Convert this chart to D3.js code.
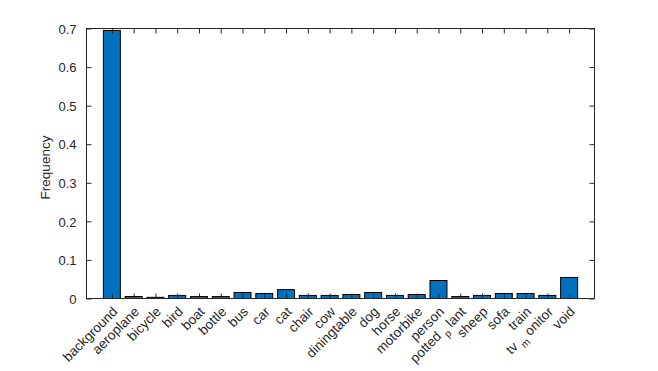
<!DOCTYPE html>
<html>
<head>
<meta charset="utf-8">
<script src="https://cdn.jsdelivr.net/npm/d3@7"></script>
<style>
  body { margin: 0; background: #fff; }
  text { font-family: 'Liberation Sans', Arial, sans-serif; fill: #262626; }
</style>
</head>
<body>
<div id="chart"></div>
<script>
// categories and frequencies
let categories = ['background', 'aeroplane', 'bicycle', 'bird', 'boat', 'bottle', 'bus', 'car',
  'cat', 'chair', 'cow', 'diningtable', 'dog', 'horse', 'motorbike', 'person',
  'potted_plant', 'sheep', 'sofa', 'train', 'tv_monitor', 'void']
let frequencies = [0.695, 0.0052, 0.003, 0.008, 0.005, 0.005, 0.0156, 0.013,
  0.023, 0.008, 0.008, 0.0104, 0.0156, 0.008, 0.0104, 0.0467,
  0.005, 0.008, 0.013, 0.013, 0.008, 0.0545]
let yTicks = [0, 0.1, 0.2, 0.3, 0.4, 0.5, 0.6, 0.7]

let margin = { top: 28.5, left: 86.5, right: 63.5, bottom: 72.5 }
let width = 658 - margin.left - margin.right
let height = 371 - margin.top - margin.bottom

let svg = d3.select('#chart')
  .append('svg')
  .attr('width', 658)
  .attr('height', 371)

let g = svg.append('g')
  .attr('transform', `translate(${margin.left},${margin.top})`)

let pad = 1.165
let xPositionScale = d3.scaleLinear()
  .domain([-pad, categories.length - 1 + pad])
  .range([0, width])

let yPositionScale = d3.scaleLinear()
  .domain([0, 0.7])
  .range([height, 0])

let step = xPositionScale(1) - xPositionScale(0)
let barWidth = step * 0.78

// bars
g.selectAll('.bar')
  .data(frequencies)
  .enter()
  .append('rect')
  .attr('class', 'bar')
  .attr('x', (d, i) => xPositionScale(i) - barWidth / 2)
  .attr('y', d => yPositionScale(d))
  .attr('width', barWidth)
  .attr('height', d => height - yPositionScale(d))
  .attr('fill', '#0072BD')
  .attr('stroke', '#000')
  .attr('stroke-width', 1)

// axes, ticks pointing inward on all four sides
let idx = d3.range(categories.length)
let tickLen = 5

let xAxisBottom = d3.axisBottom(xPositionScale).tickValues(idx).tickSize(-tickLen).tickFormat('')
let xAxisTop = d3.axisTop(xPositionScale).tickValues(idx).tickSize(-tickLen).tickFormat('')
let yAxisLeft = d3.axisLeft(yPositionScale).tickValues(yTicks).tickSize(-tickLen)
  .tickFormat(d => d === 0 ? '0' : d3.format('.1f')(d))
let yAxisRight = d3.axisRight(yPositionScale).tickValues(yTicks).tickSize(-tickLen).tickFormat('')

g.append('g').attr('class', 'axis x-bottom').attr('transform', `translate(0,${height})`).call(xAxisBottom)
g.append('g').attr('class', 'axis x-top').call(xAxisTop)
g.append('g').attr('class', 'axis y-left').call(yAxisLeft)
g.append('g').attr('class', 'axis y-right').attr('transform', `translate(${width},0)`).call(yAxisRight)

g.selectAll('.axis .domain').remove()
g.selectAll('.axis line').attr('stroke', '#262626')

// box
g.append('rect')
  .attr('x', 0)
  .attr('y', 0)
  .attr('width', width)
  .attr('height', height)
  .attr('fill', 'none')
  .attr('stroke', '#262626')
  .attr('stroke-width', 1)

g.selectAll('.y-left text')
  .attr('font-size', 13)
  .attr('x', -10)
  .attr('dy', '0.36em')
  .style('font-family', "'Liberation Sans', Arial, sans-serif")
  .attr('fill', '#262626')

// rotated category labels, underscores shown as subscripts like the TeX interpreter
let labels = g.append('g').attr('class', 'x-labels')
categories.forEach((name, i) => {
  let t = labels.append('text')
    .attr('font-size', 13.5)
    .attr('text-anchor', 'end')
    .attr('transform', `translate(${xPositionScale(i) + 6.5},${height + 14}) rotate(-45)`)
  let parts = name.split('_')
  if (parts.length === 1) {
    t.text(name)
  } else {
    t.append('tspan').text(parts[0] + ' ')
    t.append('tspan').attr('font-size', 10).attr('dy', 5).text(parts[1][0])
    t.append('tspan').attr('dy', -5).text(' ' + parts[1].slice(1))
  }
})

// y label
g.append('text')
  .attr('font-size', 13.5)
  .attr('text-anchor', 'middle')
  .attr('transform', `translate(-36.5,${height / 2 + 4}) rotate(-90)`)
  .text('Frequency')
</script>
</body>
</html>
